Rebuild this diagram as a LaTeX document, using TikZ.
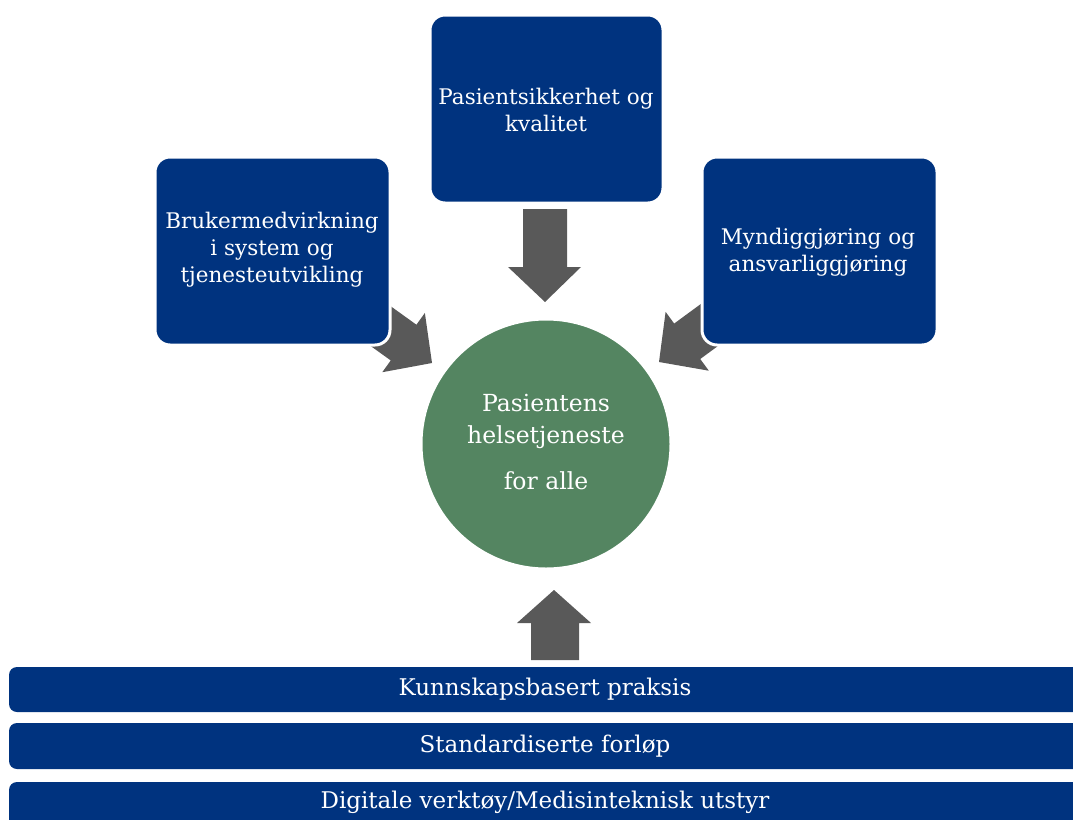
\documentclass[tikz,border=0pt]{standalone}
\usepackage{fontspec}
\setmainfont{DejaVu Serif}
\definecolor{navy}{HTML}{00337F}
\definecolor{arrowgray}{HTML}{595959}
\definecolor{circgreen}{HTML}{548561}
\tikzset{
  topicbox/.style={fill=navy, draw=white, line width=3pt, rounded corners=15pt},
  boxtext/.style={text=white, align=center, font=\fontsize{21.5}{27}\selectfont},
  bartext/.style={text=white, font=\fontsize{23}{24}\selectfont},
  barbox/.style={fill=navy, rounded corners=8pt},
  blockarrow/.style={fill=arrowgray},
}
\begin{document}
\begin{tikzpicture}[x=1pt,y=-1pt]
\useasboundingbox (0,0) rectangle (1073,819);
\clip (0,0) rectangle (1073,819);
% diagonal arrows (behind boxes)
\coordinate (ltip) at (432,363);
\coordinate (rtip) at (659,362);
\fill[blockarrow, shift={(ltip)}, rotate=-35.7]
  (0,0) -- (-35,36.5) -- (-35,22) -- (-110,22) -- (-110,-22) -- (-35,-22) -- (-35,-36.5) -- cycle;
\fill[blockarrow, shift={(rtip)}, rotate=-143.7]
  (0,0) -- (-35,36.5) -- (-35,22) -- (-110,22) -- (-110,-22) -- (-35,-22) -- (-35,-36.5) -- cycle;
% boxes
\draw[topicbox] (430,15) rectangle (663,203);
\node[boxtext] (top) at (546,110) {Pasientsikkerhet og\\kvalitet};
\draw[topicbox] (155,157) rectangle (390,345);
\node[boxtext] (left) at (272,250) {Brukermedvirkning\\i system og\\tjenesteutvikling};
\draw[topicbox] (702,157) rectangle (937,345);
\node[boxtext] (right) at (818,252) {Myndiggjøring og\\ansvarliggjøring};
% circle
\draw[fill=circgreen, draw=white, line width=3pt] (546,444) circle[radius=125];
\node[text=white, align=center, font=\fontsize{23.5}{32}\selectfont] (centre) at (546,421) {Pasientens\\helsetjeneste};
\node[text=white, font=\fontsize{23.5}{24}\selectfont] (forall) at (546,481) {for alle};
% down arrow
\fill[blockarrow] (523,209) -- (567,209) -- (567,267) -- (581,267) -- (545,302) -- (508,267) -- (523,267) -- cycle;
% up arrow
\fill[blockarrow] (531,660) -- (531,623) -- (517,623) -- (554,590) -- (591,623) -- (579,623) -- (579,660) -- cycle;
% bars
\fill[barbox] (9,667) rectangle (1090,712);
\node[bartext] (b1) at (545,689) {Kunnskapsbasert praksis};
\fill[barbox] (9,723) rectangle (1090,769);
\node[bartext] (b2) at (545,746) {Standardiserte forløp};
\fill[barbox] (9,782) rectangle (1090,840);
\node[bartext] (b3) at (545,802) {Digitale verktøy/Medisinteknisk utstyr};
\end{tikzpicture}
\end{document}
